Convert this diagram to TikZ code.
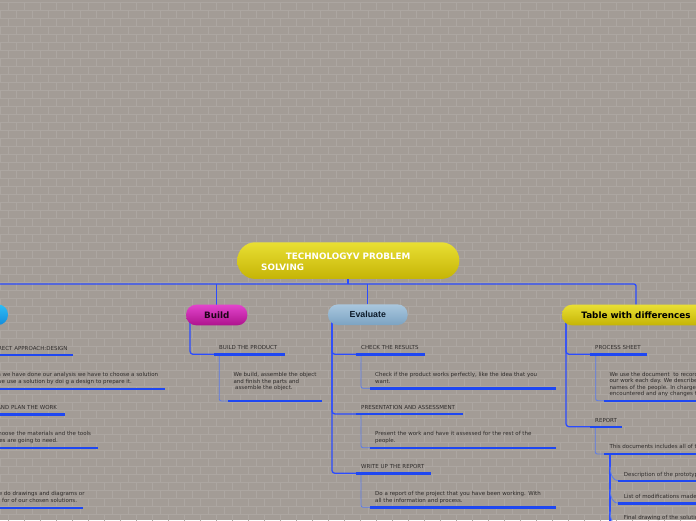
\documentclass[tikz,border=0pt]{standalone}
\usepackage{fontspec}
\setmainfont{DejaVu Sans}
\newfontfamily\arialfam{Liberation Sans}
\pgfdeclarelayer{bricks}
\pgfdeclarelayer{links}
\pgfsetlayers{bricks,links,main}
\definecolor{bgc}{HTML}{A39C96}
\definecolor{mortar}{HTML}{ACA6A1}
\definecolor{linkc}{HTML}{2B4CFF}
\definecolor{ulc}{HTML}{1E47F2}
\definecolor{thinc}{HTML}{5B7BEA}
\definecolor{txtc}{HTML}{2E2B2A}
\definecolor{yelT}{HTML}{E9DF33}
\definecolor{yelB}{HTML}{C5B406}
\definecolor{magT}{HTML}{E244CC}
\definecolor{magB}{HTML}{AE138D}
\definecolor{evT}{HTML}{A9C7DE}
\definecolor{evB}{HTML}{7CA3C2}
\definecolor{bluT}{HTML}{2DBDF5}
\definecolor{bluB}{HTML}{158CDB}
\definecolor{buildtxt}{HTML}{1E0418}
\definecolor{evtxt}{HTML}{0D1B2A}
\tikzset{
  pill/.style={rectangle, rounded corners=10pt, minimum height=20.6pt, inner sep=0pt, outer sep=0pt,
    font=\fontsize{8.8}{10}\selectfont\bfseries},
  trunk/.style={draw=linkc, line width=1.3pt, rounded corners=3pt},
  uline/.style={draw=ulc, line width=2.4pt},
  thinlink/.style={draw=thinc, line width=0.8pt, rounded corners=2pt},
  small/.style={font=\fontsize{5.5}{6.5}\selectfont, text=txtc, inner sep=0pt, anchor=base west},
  smallR/.style={small, anchor=base east},
  titletxt/.style={font=\fontsize{8.8}{10}\selectfont\bfseries, text=white, inner sep=0pt, anchor=base west},
  mortarline/.style={draw=mortar, line width=0.6pt}
}
\newcommand\ulseg[4]{\coordinate (#1s) at (#2,#4); \coordinate (#1e) at (#3,#4); \draw[uline] (#1s) -- (#1e);}
\begin{document}
\begin{tikzpicture}[x=1pt,y=-1pt]
\useasboundingbox (0,0) rectangle (696,520);
\clip (0,0) rectangle (696,520);
\begin{pgfonlayer}{bricks}
\fill[bgc] (0,0) rectangle (696,520);
\foreach \r in {0,...,65}{
  \pgfmathsetmacro\off{mod(\r,2)*8}
  \draw[mortarline] (0,\r*8+2) -- (696,\r*8+2);
  \foreach \c in {0,...,44}{\draw[mortarline] (\c*16+\off-8,\r*8+2) -- ++(0,8);}
}
\end{pgfonlayer}

% main nodes
\node[pill, minimum width=222pt, minimum height=36.7pt, rounded corners=18pt, top color=yelT, bottom color=yelB] (title) at (348.3,260.6) {};
\node[titletxt] (t1) at (285.7,259.2) {TECHNOLOGYV PROBLEM};
\node[titletxt] (t2) at (261,270.2) {SOLVING};
\node[pill, minimum width=60pt, top color=bluT, bottom color=bluB] (design) at (-22,314.7) {};
\node[pill, minimum width=61.3pt, top color=magT, bottom color=magB, text=buildtxt] (build) at (216.7,315) {Build};
\node[pill, minimum width=79.7pt, top color=evT, bottom color=evB, text=evtxt, font=\fontsize{8.8}{10}\selectfont\arialfam\bfseries] (evaluate) at (367.8,314.7) {Evaluate};
\node[pill, minimum width=148pt, top color=yelT, bottom color=yelB, text=black] (table) at (636,315) {Table with differences};
\coordinate (bus) at (348.3,284);

% left (Design) branch
\ulseg{sa}{-24}{72.7}{355}
\node[smallR] (saT) at (67.7,350.5) {CORRECT APPROACH:DESIGN};
\ulseg{sad}{-10}{165}{388.7}
\node[smallR] (sad1) at (158.3,376.8) {When we have done our analysis we have to choose a solution};
\node[smallR] (sad2) at (132,383.5) {so we use a solution by doi g a design to prepare it.};
\ulseg{pw}{-24}{65.3}{414.3}
\node[smallR] (pwT) at (57.3,409.8) {ORGANISE AND PLAN THE WORK};
\ulseg{pwd}{-10}{98}{447.7}
\node[smallR] (pwd1) at (91.3,435.8) {We choose the materials and the tools};
\node[smallR] (pwd2) at (58,442.5) {that ourselves are going to need.};
\ulseg{dgd}{-10}{82.7}{507.7}
\node[smallR] (dgd1) at (84.7,495.5) {We do drawings and diagrams or};
\node[smallR] (dgd2) at (77.3,502.2) {sketches for of our chosen solutions.};

% Build branch
\ulseg{bp}{214.3}{285.3}{354.3}
\node[small] (bpT) at (219,349.8) {BUILD THE PRODUCT};
\ulseg{bd}{228.3}{321.7}{401}
\node[small] (bd1) at (233.3,376.5) {We build, assemble the object};
\node[small] (bd2) at (233.3,383) {and finish the parts and};
\node[small] (bd3) at (235,389.5) {assemble the object.};

% Evaluate branch
\ulseg{ck}{356}{425}{354.3}
\node[small] (ckT) at (361,349.8) {CHECK THE RESULTS};
\ulseg{cd}{370}{556}{388.3}
\node[small] (cd1) at (375,376.5) {Check if the product works perfectly, like the idea that you};
\node[small] (cd2) at (375,383) {want.};
\ulseg{pr}{356}{462.7}{414}
\node[small] (prT) at (361,409.5) {PRESENTATION AND ASSESSMENT};
\ulseg{pd}{370}{556}{447.7}
\node[small] (pd1) at (375,435.9) {Present the work and have it assessed for the rest of the};
\node[small] (pd2) at (375,442.4) {people.};
\ulseg{wr}{356}{430.7}{473.3}
\node[small] (wrT) at (361,468.8) {WRITE UP THE REPORT};
\ulseg{wd}{370}{556}{507.3}
\node[small] (wd1) at (375,495.5) {Do a report of the project that you have been working. With};
\node[small] (wd2) at (375,502) {all the information and process.};

% Table branch
\ulseg{ps}{590}{646.7}{354.3}
\node[small] (psT) at (595,349.8) {PROCESS SHEET};
\ulseg{psd}{604.3}{720}{400.7}
\node[small] (psd1) at (609.3,376.6) {We use the document\ \ to record};
\node[small] (psd2) at (609.3,382.9) {our work each day. We describe};
\node[small] (psd3) at (609.3,389.2) {names of the people. In charge};
\node[small] (psd4) at (609.3,395.5) {encountered and any changes that};
\ulseg{rp}{590}{622.3}{426.7}
\node[small] (rpT) at (595,422.2) {REPORT};
\ulseg{rpd}{604.3}{720}{454}
\node[small] (rpd1) at (609.3,448.6) {This documents includes all of the};
\coordinate (rpk) at (610,454);
\coordinate (rpkEnd) at (610,540);
\ulseg{ds}{618.3}{720}{480.7}
\node[small] (ds1) at (623.7,476.4) {Description of the prototype};
\ulseg{lm}{618.3}{720}{503.3}
\node[small] (lm1) at (623.7,498.8) {List of modifications made};
\ulseg{fd}{618.3}{720}{525.5}
\node[small] (fd1) at (623.7,519.8) {Final drawing of the solution};

\begin{pgfonlayer}{links}
\draw[trunk, rounded corners=2pt] (design.north) -- (design.north |- bus) -- (table.north |- bus) -- (table.north);
\draw[trunk, line width=1.8pt] (title.south) -- (title.south |- bus);
\draw[trunk] (build.north) -- (build.north |- bus);
\draw[trunk] (evaluate.north) -- (evaluate.north |- bus);
% design
\draw[trunk] (design.south west) ++(4,-5) |- (sas);
\draw[trunk] (design.south west) ++(4,-5) |- (pws);
\draw[thinlink] (sas) ++(5,0) |- (sads);
\draw[thinlink] (pws) ++(5,0) |- (pwds);
\draw[thinlink] (pws) ++(5,0) |- (dgds);
% build
\draw[trunk] (build.south west) ++(4,-5) |- (bps);
\draw[thinlink] (bps) ++(5,0) |- (bds);
% evaluate
\draw[trunk] (evaluate.south west) ++(4,-5) |- (cks);
\draw[trunk] (evaluate.south west) ++(4,-5) |- (prs);
\draw[trunk] (evaluate.south west) ++(4,-5) |- (wrs);
\draw[thinlink] (cks) ++(5,0) |- (cds);
\draw[thinlink] (prs) ++(5,0) |- (pds);
\draw[thinlink] (wrs) ++(5,0) |- (wds);
% table
\draw[trunk] (table.south west) ++(4,-5) |- (pss);
\draw[trunk] (table.south west) ++(4,-5) |- (rps);
\draw[thinlink] (pss) ++(5.7,0) |- (psds);
\draw[thinlink] (rps) ++(5.3,0) |- (rpds);
\draw[draw=linkc, line width=1.7pt] (rpk) -- (rpkEnd);
\draw[thinlink] (dss) ++(-8.3,-14) .. controls +(0.5,9) and +(-5,0) .. (dss);
\draw[thinlink] (lms) ++(-8.3,-14) .. controls +(0.5,9) and +(-5,0) .. (lms);
\draw[thinlink] (fds) ++(-8.3,-14) .. controls +(0.5,9) and +(-5,0) .. (fds);
\end{pgfonlayer}
\end{tikzpicture}
\end{document}
